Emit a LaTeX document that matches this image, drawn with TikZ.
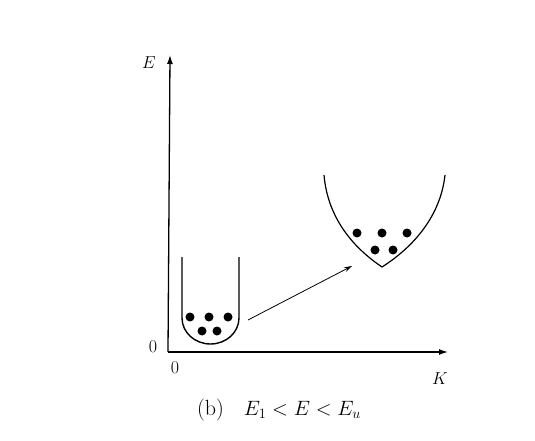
\documentclass[tikz,border=0pt]{standalone}
\usetikzlibrary{arrows.meta}
\begin{document}
\begin{tikzpicture}[x=1pt,y=-1pt,
  axis/.style={line width=1.3pt,-{Latex[length=9pt,width=6pt]}},
  well/.style={line width=1.4pt},
  ball/.style={circle,fill=black,inner sep=0pt,minimum size=9pt},
  lbl/.style={font=\fontsize{18}{20}\selectfont}]
\useasboundingbox (0,0) rectangle (535,441);
\coordinate (O) at (168,352);
\coordinate (Etip) at (170,55);
\coordinate (Ktip) at (448,352);
\draw[axis] (O) -- (Etip);
\draw[axis] (O) -- (Ktip);
\node[lbl] (Elab) at (149,63) {$E$};
\node[lbl] (Klab) at (440,379) {$K$};
\node[lbl] (zeroL) at (153,347) {0};
\node[lbl] (zeroB) at (175,368) {0};
% left well
\draw[well] (182,257) -- (182,318) arc[start angle=180,end angle=360,x radius=28.5pt,y radius=26pt] -- (239,257);
\foreach \n/\px/\py in {a/190/317,b/209/317,c/228/317,d/202/331,e/217/331}
  \node[ball] (L\n) at (\px,\py) {};
% right well
\coordinate (Rl) at (324,175);
\coordinate (Rr) at (445,175);
\coordinate (Rb) at (382,267);
\draw[line width=1.2pt] (Rl) .. controls (327,210) and (345,242) .. (Rb) .. controls (418,244) and (441,212) .. (Rr);
\foreach \n/\px/\py in {a/357/233,b/382/233,c/407/233,d/375/250,e/393/250}
  \node[ball] (R\n) at (\px,\py) {};
\coordinate (As) at (248,320);
\coordinate (Ae) at (352,266);
\draw[line width=0.8pt,-{Stealth[length=8pt,width=5pt]}] (As) -- (Ae);
\node[font=\fontsize{22}{25}\selectfont] (cap) at (279,410) {(b)\hspace{20pt}$E_{1}<E<E_{u}$};
\end{tikzpicture}
\end{document}
